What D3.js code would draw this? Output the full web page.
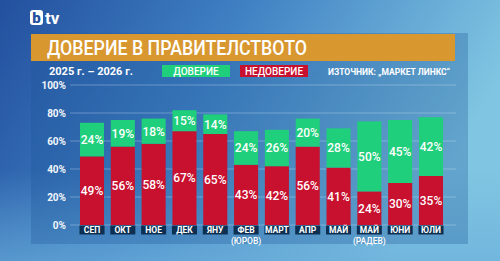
<!DOCTYPE html>
<html lang="bg">
<head>
<meta charset="utf-8">
<script src="https://cdn.jsdelivr.net/npm/d3@7"></script>
<style>
  body { margin: 0; padding: 0; overflow: hidden; }
  svg { display: block; font-family: Roboto, "Open Sans", sans-serif; }
</style>
</head>
<body>
<svg id="chart" width="500" height="261"></svg>
<script>
var months = ["СЕП", "ОКТ", "НОЕ", "ДЕК", "ЯНУ", "ФЕВ", "МАРТ", "АПР", "МАЙ", "МАЙ", "ЮНИ", "ЮЛИ"];
var notes = ["", "", "", "", "", "(ЮРОВ)", "", "", "", "(РАДЕВ)", "", ""];
var distrust = [49, 56, 58, 67, 65, 43, 42, 56, 41, 24, 30, 35];
var trust = [24, 19, 18, 15, 14, 24, 26, 20, 28, 50, 45, 42];
var yTicks = [0, 20, 40, 60, 80, 100];

var green = "#1fcf7c";
var red = "#c8102f";
var navy = "#0c2f52";

var svg = d3.select("#chart");
var defs = svg.append("defs");

// background
var bg = defs.append("linearGradient").attr("id", "bg")
  .attr("x1", "0%").attr("y1", "0%").attr("x2", "100%").attr("y2", "30%");
bg.append("stop").attr("offset", "0%").attr("stop-color", "#23509e");
bg.append("stop").attr("offset", "45%").attr("stop-color", "#3f80c3");
bg.append("stop").attr("offset", "100%").attr("stop-color", "#80c6e2");
svg.append("rect").attr("width", 500).attr("height", 261).attr("fill", "url(#bg)");

var bot = defs.append("linearGradient").attr("id", "bot")
  .attr("x1", "0").attr("y1", "0").attr("x2", "0").attr("y2", "1");
bot.append("stop").attr("offset", "0%").attr("stop-color", "#6aaedb").attr("stop-opacity", 0);
bot.append("stop").attr("offset", "100%").attr("stop-color", "#6aaedb").attr("stop-opacity", 0.65);
svg.append("rect").attr("y", 170).attr("width", 500).attr("height", 91).attr("fill", "url(#bot)");

// panel
svg.append("rect")
  .attr("x", 31).attr("y", 33).attr("width", 437).attr("height", 211)
  .attr("fill", "#1d5597").attr("opacity", 0.3);

// logo
svg.append("rect")
  .attr("x", 30).attr("y", 10).attr("width", 13).attr("height", 15).attr("rx", 3)
  .attr("fill", "#fff");
svg.append("text").attr("x", 36.5).attr("y", 23).attr("text-anchor", "middle")
  .attr("font-size", 15).attr("font-weight", 900).attr("fill", "#24509e").text("b");
svg.append("text").attr("x", 45).attr("y", 24)
  .attr("font-size", 17).attr("font-weight", 700).attr("fill", "#fff").text("tv");

// title bar
svg.append("rect")
  .attr("x", 31).attr("y", 34).attr("width", 424).attr("height", 27)
  .attr("fill", "#d8972f");
svg.append("text").attr("x", 47).attr("y", 54.5)
  .attr("font-size", 19.5).attr("font-weight", 500).attr("fill", "#fff")
  .attr("textLength", 260).attr("lengthAdjust", "spacingAndGlyphs")
  .text("ДОВЕРИЕ В ПРАВИТЕЛСТВОТО");

// subtitle row
svg.append("text").attr("x", 49).attr("y", 75)
  .attr("font-size", 11).attr("font-weight", 700).attr("fill", "#fff")
  .text("2025 г. – 2026 г.");

var legend = [{ name: "ДОВЕРИЕ", color: green, x: 162 }, { name: "НЕДОВЕРИЕ", color: red, x: 240 }];
var lg = svg.selectAll(".legend").data(legend).enter().append("g").attr("class", "legend");
lg.append("rect")
  .attr("x", function(d) { return d.x; }).attr("y", 65)
  .attr("width", 68).attr("height", 12).attr("fill", function(d) { return d.color; });
lg.append("text")
  .attr("x", function(d) { return d.x + 34; }).attr("y", 75)
  .attr("text-anchor", "middle").attr("font-size", 10).attr("font-weight", 500)
  .attr("fill", "#fff").text(function(d) { return d.name; });

svg.append("text").attr("x", 450).attr("y", 74.5).attr("text-anchor", "end")
  .attr("font-size", 8.5).attr("font-weight", 700).attr("fill", "#fff")
  .text("ИЗТОЧНИК: „МАРКЕТ ЛИНКС“");

// scales
var x = d3.scaleBand().domain(d3.range(months.length))
  .range([76.6, 446.4]).paddingInner(0.22).paddingOuter(0.11);
var y = d3.scaleLinear().domain([0, 100]).range([225, 85]);

// grid
svg.append("g").selectAll("line").data(yTicks).enter().append("line")
  .attr("x1", 70).attr("x2", 456)
  .attr("y1", function(d) { return y(d); }).attr("y2", function(d) { return y(d); })
  .attr("stroke", "#cfe6f7").attr("stroke-opacity", 0.35).attr("stroke-width", 1);

// y axis
var yAxis = d3.axisLeft(y).tickValues(yTicks).tickSize(0).tickPadding(0)
  .tickFormat(function(d) { return d + "%"; });
var ya = svg.append("g").attr("transform", "translate(66,0)").call(yAxis);
ya.select(".domain").remove();
ya.selectAll("text").attr("font-size", 10).attr("font-weight", 700)
  .attr("fill", "#f2f6fb").attr("font-family", "Roboto, sans-serif").attr("dy", "0.32em");

var idx = d3.range(months.length);

// bars
svg.append("g").selectAll("rect").data(idx).enter().append("rect")
  .attr("x", function(i) { return x(i); })
  .attr("y", function(i) { return y(distrust[i]); })
  .attr("width", x.bandwidth())
  .attr("height", function(i) { return y(0) - y(distrust[i]); })
  .attr("fill", red);

svg.append("g").selectAll("rect").data(idx).enter().append("rect")
  .attr("x", function(i) { return x(i); })
  .attr("y", function(i) { return y(distrust[i] + trust[i]); })
  .attr("width", x.bandwidth())
  .attr("height", function(i) { return y(distrust[i]) - y(distrust[i] + trust[i]); })
  .attr("fill", green);

// value labels
svg.append("g").selectAll("text").data(idx).enter().append("text")
  .attr("x", function(i) { return x(i) + x.bandwidth() / 2; })
  .attr("y", function(i) { return y(distrust[i] / 2); })
  .attr("dy", "0.36em").attr("text-anchor", "middle")
  .attr("font-size", 12).attr("font-weight", 500).attr("fill", "#fff")
  .text(function(i) { return distrust[i] + "%"; });

svg.append("g").selectAll("text").data(idx).enter().append("text")
  .attr("x", function(i) { return x(i) + x.bandwidth() / 2; })
  .attr("y", function(i) { return y(distrust[i] + trust[i] / 2); })
  .attr("dy", "0.36em").attr("text-anchor", "middle")
  .attr("font-size", 12).attr("font-weight", 500).attr("fill", "#fff")
  .text(function(i) { return trust[i] + "%"; });

// month labels
var ml = svg.append("g").selectAll("g").data(idx).enter().append("g");
ml.append("rect")
  .attr("x", function(i) { return x(i) - 0.5; }).attr("y", 225.5)
  .attr("width", x.bandwidth() + 1).attr("height", 9).attr("fill", navy);
ml.append("text")
  .attr("x", function(i) { return x(i) + x.bandwidth() / 2; }).attr("y", 233.3)
  .attr("text-anchor", "middle").attr("font-size", 8.5).attr("font-weight", 700)
  .attr("fill", "#fff").text(function(i) { return months[i]; });
ml.append("text")
  .attr("x", function(i) { return x(i) + x.bandwidth() / 2; }).attr("y", 243.5)
  .attr("text-anchor", "middle").attr("font-size", 8.5).attr("font-weight", 500)
  .attr("fill", "#fff").text(function(i) { return notes[i]; });
</script>
</body>
</html>
